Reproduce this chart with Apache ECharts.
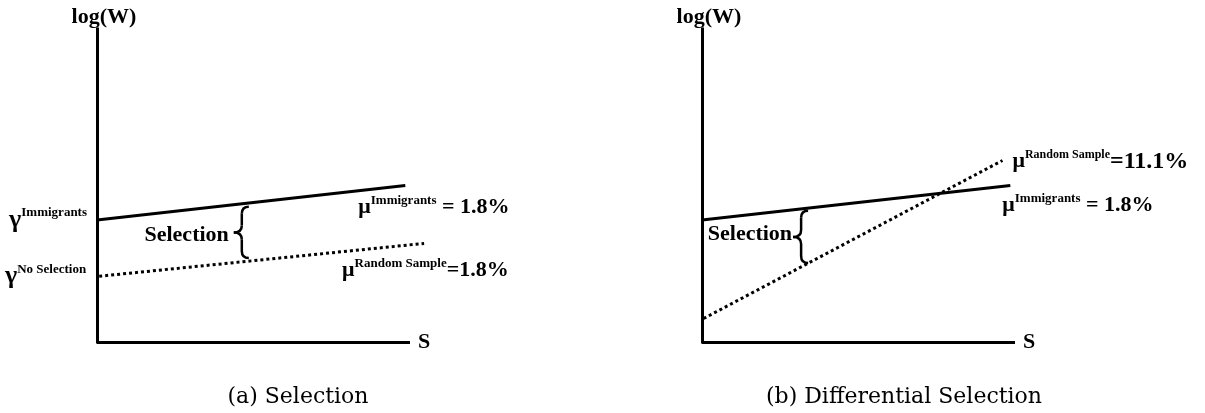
<!DOCTYPE html>
<html>
<head>
<meta charset="utf-8">
<script src="https://cdn.jsdelivr.net/npm/echarts@6/dist/echarts.min.js"></script>
<style>
  html, body { margin: 0; padding: 0; background: #fff; }
  #chart { width: 1205px; height: 413px; }
</style>
</head>
<body>
<div id="chart"></div>
<script>
// Panel (a): schooling (S) and log wage at the two ends of each wage profile
const schoolingImmA = [0, 9.85];
const logWageImmA = [3.9, 5.0];
const schoolingRandA = [0.07, 10.45];
const logWageRandA = [2.1, 3.15];

// Panel (b)
const schoolingImmB = [0, 9.85];
const logWageImmB = [3.9, 5.0];
const schoolingRandB = [0.05, 9.6];
const logWageRandB = [0.75, 5.8];

// Selection gap brace: [schooling, upper log wage, lower log wage]
const braceA = [4.85, 4.32, 2.68];
const braceB = [3.39, 4.19, 2.52];

// Extent of the drawn schooling axis
const schoolingAxis = [0, 10];

// Returns to schooling printed next to each profile
const returnsA = ['1.8%', '1.8%'];   // immigrants, random sample
const returnsB = ['1.8%', '11.1%'];

const panelTitles = ['(a) Selection', '(b) Differential Selection'];
const axisNames = ['log(W)', 'S'];

const BOLD = '"Liberation Serif", "Times New Roman", serif';
const LH = 34;
const rich = {
  m: { fontFamily: BOLD, fontWeight: 'bold', fontSize: 22, color: '#000', lineHeight: LH },
  big: { fontFamily: BOLD, fontWeight: 'bold', fontSize: 24, color: '#000', lineHeight: LH },
  g: { fontFamily: BOLD, fontWeight: 'bold', fontSize: 26, color: '#000', lineHeight: LH },
  s: { fontFamily: BOLD, fontWeight: 'bold', fontSize: 13, color: '#000', lineHeight: LH, padding: [0, 0, 14, 0] },
  s2: { fontFamily: BOLD, fontWeight: 'bold', fontSize: 12, color: '#000', lineHeight: LH, padding: [0, 0, 14, 0] }
};

function pts(xs, ys) {
  return xs.map((x, i) => ({ value: [x, ys[i]] }));
}

function richLabel(text, align, offset) {
  return {
    show: true, position: 'inside', align: align, verticalAlign: 'middle',
    offset: offset, formatter: text, rich: rich
  };
}

function profile(grid, data, dotted) {
  return {
    type: 'line',
    xAxisIndex: grid, yAxisIndex: grid,
    data: data,
    symbol: 'circle', symbolSize: 0,
    clip: false, silent: true,
    lineStyle: dotted
      ? { color: '#000', width: 3, type: [3, 3], cap: 'butt' }
      : { color: '#000', width: 3, cap: 'butt' },
    z: 3
  };
}

// horizontal schooling axis, drawn up to the end of its range and tagged "S"
function schoolingAxisLine() {
  return {
    silent: true, animation: false,
    symbol: ['none', 'none'],
    lineStyle: { color: '#000', width: 3, type: 'solid', cap: 'butt' },
    emphasis: { disabled: true },
    label: {
      show: true, position: 'end', distance: 8, formatter: axisNames[1],
      fontFamily: BOLD, fontWeight: 'bold', fontSize: 22, color: '#000', padding: [4, 0, 0, 0]
    },
    data: [[{ coord: [schoolingAxis[0], 0] }, { coord: [schoolingAxis[1], 0] }]]
  };
}

function braceRenderer(gap, dy) {
  return function (params, api) {
    const top = api.coord([api.value(0), api.value(1)]);
    const bot = api.coord([api.value(0), api.value(2)]);
    const xr = top[0], yt = top[1], yb = bot[1];
    const xs = xr - 7, xt = xr - 15, ym = (yt + yb) / 2, r = 7;
    const st = { stroke: '#000', lineWidth: 2.5, fill: null };
    return {
      type: 'group',
      children: [
        { type: 'bezierCurve', shape: { x1: xr, y1: yt, cpx1: xs, cpy1: yt, x2: xs, y2: yt + r }, style: st },
        { type: 'line', shape: { x1: xs, y1: yt + r, x2: xs, y2: ym - r }, style: st },
        { type: 'bezierCurve', shape: { x1: xs, y1: ym - r, cpx1: xs, cpy1: ym, x2: xt, y2: ym }, style: st },
        { type: 'bezierCurve', shape: { x1: xt, y1: ym, cpx1: xs, cpy1: ym, x2: xs, y2: ym + r }, style: st },
        { type: 'line', shape: { x1: xs, y1: ym + r, x2: xs, y2: yb - r }, style: st },
        { type: 'bezierCurve', shape: { x1: xs, y1: yb - r, cpx1: xs, cpy1: yb, x2: xr, y2: yb }, style: st },
        {
          type: 'text',
          style: {
            text: 'Selection', x: xt - gap, y: ym + dy, align: 'right', verticalAlign: 'middle',
            fontFamily: BOLD, fontWeight: 'bold', fontSize: 22, fill: '#000'
          }
        }
      ]
    };
  };
}

const nameStyle = { fontFamily: BOLD, fontWeight: 'bold', fontSize: 22, color: '#000' };

function xAxisFor(grid) {
  return {
    type: 'value', gridIndex: grid, min: 0, max: 11,
    axisLine: { show: false }, axisTick: { show: false }, axisLabel: { show: false }, splitLine: { show: false }
  };
}
function yAxisFor(grid) {
  return {
    type: 'value', gridIndex: grid, min: 0, max: 10,
    name: axisNames[0], nameLocation: 'end', nameGap: 1,
    nameTextStyle: Object.assign({ padding: [0, 0, 0, 14] }, nameStyle),
    axisLine: { show: true, onZero: false, lineStyle: { color: '#000', width: 3, cap: 'square' } },
    axisTick: { show: false }, axisLabel: { show: false }, splitLine: { show: false }
  };
}

const immA = pts(schoolingImmA, logWageImmA);
immA[0].label = richLabel('{g|γ}{s|Immigrants}', 'right', [-10, 0]);
immA[1].label = richLabel('{m|μ}{s|Immigrants}{m| = ' + returnsA[0] + '}', 'left', [-47, 22]);

const randA = pts(schoolingRandA, logWageRandA);
randA[0].label = richLabel('{g|γ}{s|No Selection}', 'right', [-13, 0]);
randA[1].label = richLabel('{m|μ}{s|Random Sample}{m|=' + returnsA[1] + '}', 'left', [-82, 27]);

const immB = pts(schoolingImmB, logWageImmB);
immB[1].label = richLabel('{m|μ}{s|Immigrants}{m| = ' + returnsB[0] + '}', 'left', [-8, 20]);

const randB = pts(schoolingRandB, logWageRandB);
randB[1].label = richLabel('{m|μ}{s2|Random Sample}{big|=' + returnsB[1] + '}', 'left', [10, 1]);

const titleStyle = { fontFamily: '"DejaVu Serif", serif', fontSize: 22, fontWeight: 'normal', color: '#000' };

const chart = echarts.init(document.getElementById('chart'), null, { renderer: 'canvas' });
const seriesImmA = profile(0, immA, false);
seriesImmA.markLine = schoolingAxisLine();
const seriesImmB = profile(1, immB, false);
seriesImmB.markLine = schoolingAxisLine();

chart.setOption({
  backgroundColor: '#fff',
  animation: false,
  title: [
    { text: panelTitles[0], left: 298, top: 386, textAlign: 'center', padding: 0, textStyle: titleStyle },
    { text: panelTitles[1], left: 904, top: 386, textAlign: 'center', padding: 0, textStyle: titleStyle }
  ],
  grid: [
    { left: 97, top: 29, width: 344.3, height: 313 },
    { left: 702, top: 29, width: 344.3, height: 313 }
  ],
  xAxis: [xAxisFor(0), xAxisFor(1)],
  yAxis: [yAxisFor(0), yAxisFor(1)],
  series: [
    seriesImmA,
    profile(0, randA, true),
    seriesImmB,
    profile(1, randB, true),
    { type: 'custom', xAxisIndex: 0, yAxisIndex: 0, renderItem: braceRenderer(5, 3), data: [braceA], silent: true, z: 4 },
    { type: 'custom', xAxisIndex: 1, yAxisIndex: 1, renderItem: braceRenderer(1, -3), data: [braceB], silent: true, z: 4 }
  ]
});
</script>
</body>
</html>
